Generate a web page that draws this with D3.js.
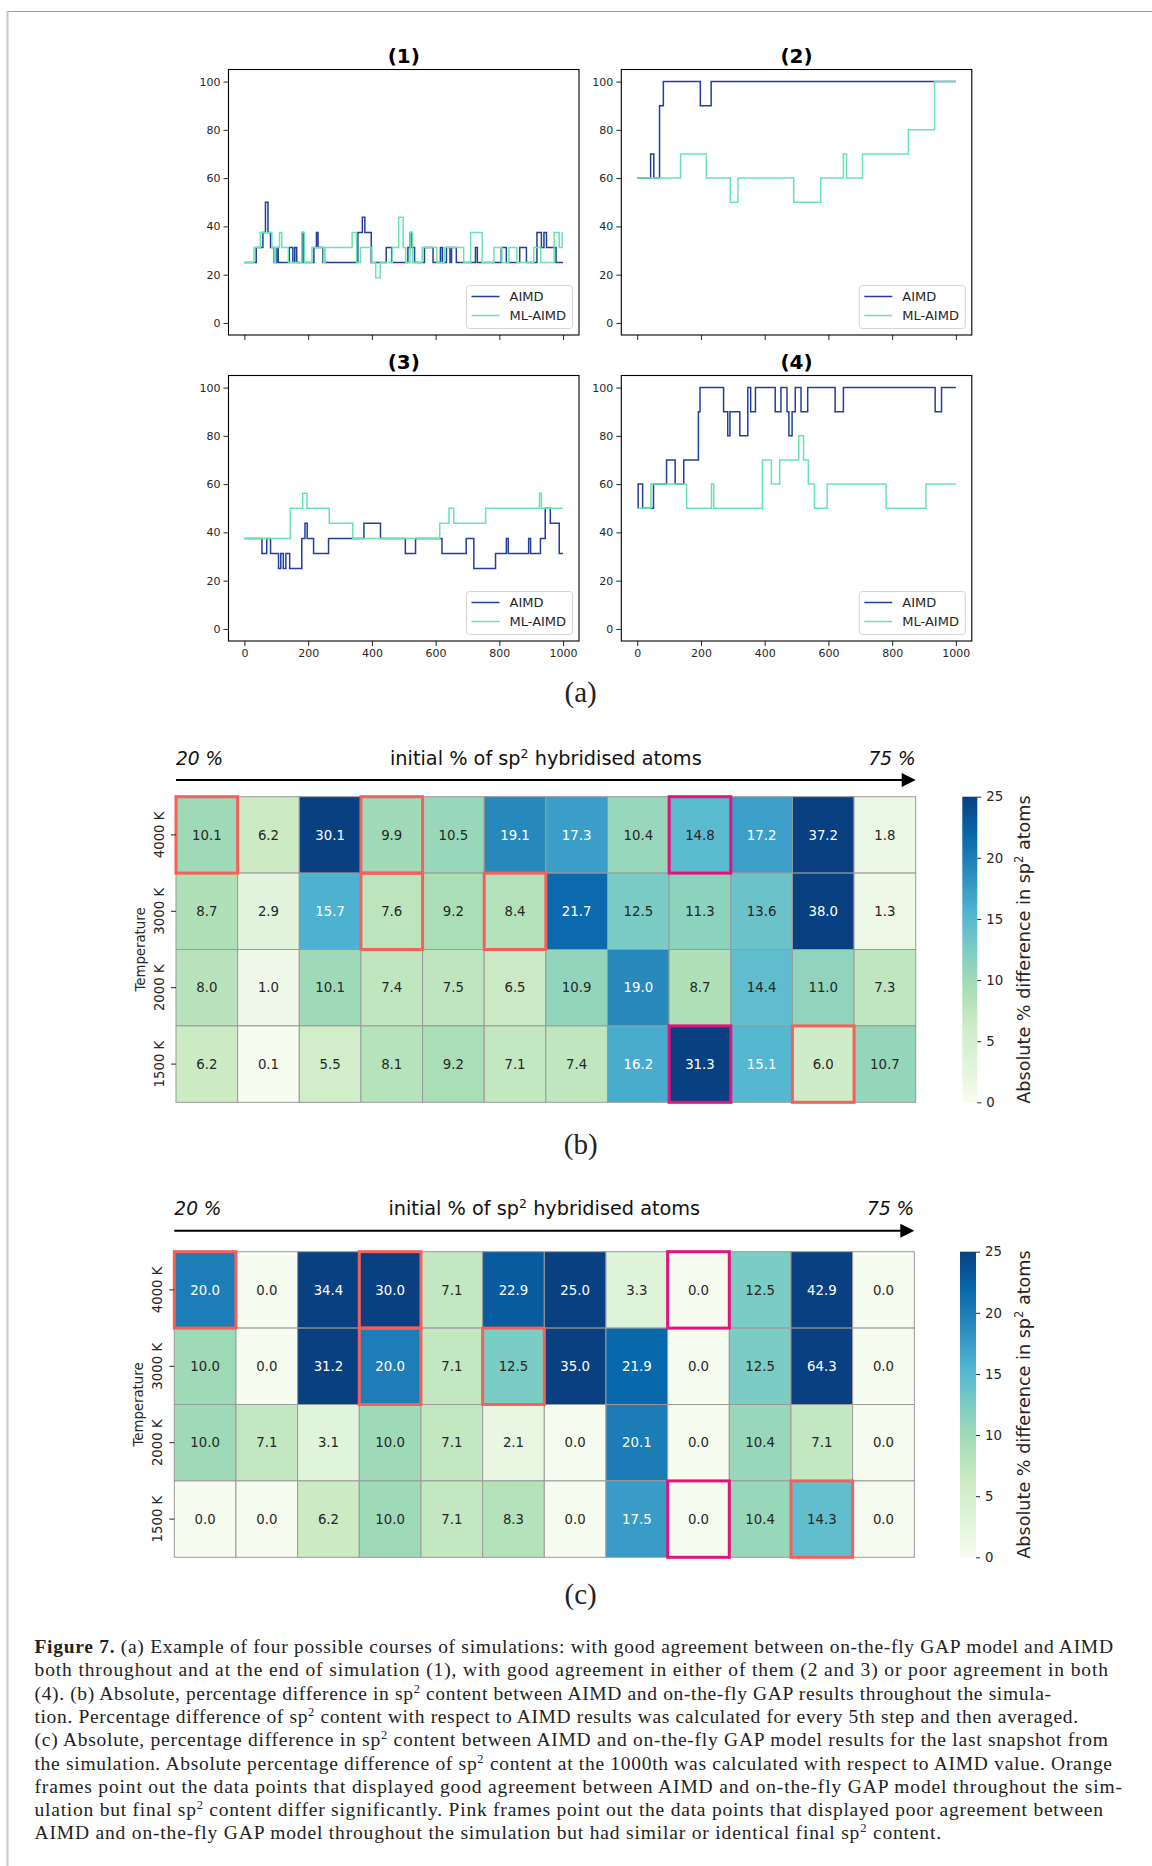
<!DOCTYPE html>
<html>
<head>
<meta charset="utf-8">
<script src="https://cdn.jsdelivr.net/npm/d3@7"></script>
<style>
  body { margin: 0; background: #fff; }
  svg { display: block; }
</style>
</head>
<body>
<div id="fig"></div>
<script>
// ---------- data ----------
var xTicks = [0, 200, 400, 600, 800, 1000];
var yTicks = [0, 20, 40, 60, 80, 100];
var seriesNames = ["AIMD", "ML-AIMD"];
var panelTitles = ["(1)", "(2)", "(3)", "(4)"];

// change points [step, % sp2]
var aimd1 = [[0,25],[37,31.25],[58,37.5],[66,50],[74,37.5],[82,31.25],[92,25],[101,31.25],[106,25],[141,31.25],[152,25],[158,31.25],[164,25],[181,37.5],[186,25],[218,31.25],[226,37.5],[231,31.25],[246,25],[356,37.5],[370,43.75],[378,37.5],[398,25],[445,31.25],[462,25],[513,31.25],[520,37.5],[526,31.25],[534,25],[565,31.25],[592,25],[615,31.25],[621,25],[634,31.25],[645,25],[650,31.25],[665,25],[725,31.25],[731,25],[806,31.25],[822,25],[864,31.25],[885,25],[918,37.5],[932,31.25],[940,37.5],[948,31.25],[978,25],[1000,25]];
var ml1 = [[0,25],[30,31.25],[50,37.5],[86,31.25],[93,25],[98,31.25],[110,37.5],[117,31.25],[138,25],[180,37.5],[188,25],[212,31.25],[248,25],[253,31.25],[338,37.5],[352,25],[364,31.25],[400,25],[412,18.75],[426,25],[464,31.25],[484,43.75],[498,31.25],[506,25],[520,37.5],[528,25],[558,31.25],[604,25],[627,31.25],[688,25],[710,37.5],[746,25],[783,31.25],[808,25],[830,31.25],[855,25],[908,31.25],[930,25],[972,37.5],[988,31.25],[997,37.5],[1000,37.5]];
var aimd2 = [[0,60],[42,70],[52,60],[70,90],[82,100],[198,90],[232,100],[1000,100]];
var ml2 = [[0,60],[136,70],[217,60],[292,50],[316,60],[491,50],[576,60],[647,70],[657,60],[707,70],[851,80],[933,100],[1000,100]];
var aimd3 = [[0,37.5],[55,31.25],[70,37.5],[82,31.25],[107,25],[114,31.25],[122,25],[130,31.25],[142,25],[180,37.5],[190,43.75],[197,37.5],[217,31.25],[264,37.5],[375,43.75],[427,37.5],[505,31.25],[537,37.5],[620,31.25],[696,37.5],[720,25],[788,31.25],[822,37.5],[828,31.25],[892,37.5],[898,31.25],[929,37.5],[944,50],[960,43.75],[988,31.25],[1000,31.25]];
var ml3 = [[0,37.5],[144,50],[183,56.25],[196,50],[266,43.75],[340,37.5],[613,43.75],[642,50],[657,43.75],[757,50],[926,56.25],[932,50],[1000,50]];
var aimd4 = [[0,50],[3,60],[17,50],[51,60],[92,70],[119,60],[146,70],[192,90],[197,100],[271,90],[284,80],[291,90],[322,80],[347,100],[356,90],[371,100],[433,90],[451,100],[470,90],[476,80],[486,90],[496,100],[514,90],[535,100],[621,90],[647,100],[935,90],[955,100],[1000,100]];
var ml4 = [[0,50],[43,60],[155,50],[233,60],[240,50],[393,70],[421,60],[447,70],[507,80],[522,70],[537,60],[556,50],[596,60],[781,50],[906,60],[1000,60]];

var temps = ["4000 K", "3000 K", "2000 K", "1500 K"];
var diffAvg = [
  [10.1, 6.2, 30.1, 9.9, 10.5, 19.1, 17.3, 10.4, 14.8, 17.2, 37.2, 1.8],
  [8.7, 2.9, 15.7, 7.6, 9.2, 8.4, 21.7, 12.5, 11.3, 13.6, 38.0, 1.3],
  [8.0, 1.0, 10.1, 7.4, 7.5, 6.5, 10.9, 19.0, 8.7, 14.4, 11.0, 7.3],
  [6.2, 0.1, 5.5, 8.1, 9.2, 7.1, 7.4, 16.2, 31.3, 15.1, 6.0, 10.7]
];
var diffFinal = [
  [20.0, 0.0, 34.4, 30.0, 7.1, 22.9, 25.0, 3.3, 0.0, 12.5, 42.9, 0.0],
  [10.0, 0.0, 31.2, 20.0, 7.1, 12.5, 35.0, 21.9, 0.0, 12.5, 64.3, 0.0],
  [10.0, 7.1, 3.1, 10.0, 7.1, 2.1, 0.0, 20.1, 0.0, 10.4, 7.1, 0.0],
  [0.0, 0.0, 6.2, 10.0, 7.1, 8.3, 0.0, 17.5, 0.0, 10.4, 14.3, 0.0]
];
var orangeFrames = [[0,0],[0,3],[1,3],[1,5],[3,10]];   // [row, col]
var pinkFrames = [[0,8],[3,8]];
var cbTicks = [0, 5, 10, 15, 20, 25];
var axisLeftText = "20 %", axisRightText = "75 %";

var captionLines = [
  "Figure 7. (a) Example of four possible courses of simulations: with good agreement between on-the-fly GAP model and AIMD",
  "both throughout and at the end of simulation (1), with good agreement in either of them (2 and 3) or poor agreement in both",
  "(4). (b) Absolute, percentage difference in sp^2 content between AIMD and on-the-fly GAP results throughout the simula-",
  "tion. Percentage difference of sp^2 content with respect to AIMD results was calculated for every 5th step and then averaged.",
  "(c) Absolute, percentage difference in sp^2 content between AIMD and on-the-fly GAP model results for the last snapshot from",
  "the simulation. Absolute percentage difference of sp^2 content at the 1000th was calculated with respect to AIMD value. Orange",
  "frames point out the data points that displayed good agreement between AIMD and on-the-fly GAP model throughout the sim-",
  "ulation but final sp^2 content differ significantly. Pink frames point out the data points that displayed poor agreement between",
  "AIMD and on-the-fly GAP model throughout the simulation but had similar or identical final sp^2 content."
];

// ---------- setup ----------
var W = 1152, H = 1866;
var sans = "'DejaVu Sans', sans-serif", serif = "'Liberation Serif', 'Times New Roman', serif";
var ink = "#262626";
var aimdColor = "#233f9c", mlColor = "#6ae3b3";

var svg = d3.select("#fig").append("svg")
    .attr("width", W)
    .attr("height", H);

// page frame
svg.append("line").attr("x1", 7).attr("x2", W).attr("y1", 11.5).attr("y2", 11.5)
    .attr("stroke", "#9a9a9a").attr("stroke-width", 1);
svg.append("line").attr("x1", 7.5).attr("x2", 7.5).attr("y1", 11).attr("y2", H)
    .attr("stroke", "#c8c8c8").attr("stroke-width", 2);

// ---------- (a) line panels ----------
var pw = 350.5, ph = 265.5;
var panels = [
  {title: panelTitles[0], a: aimd1, m: ml1, left: 228.5, top: 69.5, xlab: false},
  {title: panelTitles[1], a: aimd2, m: ml2, left: 621.3, top: 69.5, xlab: false},
  {title: panelTitles[2], a: aimd3, m: ml3, left: 228.5, top: 375.5, xlab: true},
  {title: panelTitles[3], a: aimd4, m: ml4, left: 621.3, top: 375.5, xlab: true}
];

var x = d3.scaleLinear().domain([-50, 1050]).range([0, pw]);
var y = d3.scaleLinear().domain([-5, 105]).range([ph, 0]);
var line = d3.line()
    .x(d => x(d[0]))
    .y(d => y(d[1]))
    .curve(d3.curveStepAfter);

panels.forEach(function(p) {
  var g = svg.append("g").attr("transform", "translate(" + p.left + "," + p.top + ")");

  g.append("text")
      .attr("x", pw / 2).attr("y", -7)
      .attr("text-anchor", "middle")
      .style("font-family", sans).style("font-size", "20px").style("font-weight", "bold")
      .text(p.title);

  var ya = g.append("g")
      .call(d3.axisLeft(y).tickValues(yTicks).tickSize(5).tickPadding(3));
  var xa = g.append("g")
      .attr("transform", "translate(0," + ph + ")")
      .call(d3.axisBottom(x).tickValues(xTicks).tickSize(5).tickPadding(3)
        .tickFormat(p.xlab ? d3.format("d") : ""));
  [ya, xa].forEach(function(a) {
    a.select(".domain").remove();
    a.selectAll("line").attr("stroke", ink).attr("stroke-width", 1);
    a.selectAll("text").style("font-family", sans).style("font-size", "11px").attr("fill", ink);
  });

  g.append("path").datum(p.a)
      .attr("d", line).attr("fill", "none")
      .attr("stroke", aimdColor).attr("stroke-width", 1.5);
  g.append("path").datum(p.m)
      .attr("d", line).attr("fill", "none")
      .attr("stroke", mlColor).attr("stroke-width", 1.5);

  g.append("rect")
      .attr("width", pw).attr("height", ph)
      .attr("fill", "none").attr("stroke", "#000").attr("stroke-width", 1.1);

  // legend
  var lw = 106, lh = 43;
  var lg = g.append("g").attr("transform", "translate(" + (pw - lw - 6.5) + "," + (ph - lh - 6.5) + ")");
  lg.append("rect").attr("width", lw).attr("height", lh).attr("rx", 3)
      .attr("fill", "#fff").attr("fill-opacity", 0.8)
      .attr("stroke", "#d4d4d4").attr("stroke-width", 1);
  [aimdColor, mlColor].forEach(function(c, i) {
    var yy = 11 + i * 19;
    lg.append("line").attr("x1", 5).attr("x2", 33).attr("y1", yy).attr("y2", yy)
        .attr("stroke", c).attr("stroke-width", 1.5);
    lg.append("text").attr("x", 43).attr("y", yy).attr("dy", "0.36em")
        .style("font-family", sans).style("font-size", "13px").attr("fill", ink)
        .text(seriesNames[i]);
  });
});

// ---------- heatmaps ----------
var gnbu = d3.schemeGnBu[9];
var color = d3.scaleLinear()
    .domain(d3.range(9).map(i => i * 25 / 8))
    .range(gnbu)
    .interpolate(d3.interpolateRgb)
    .clamp(true);

function luminance(c) {
  var r = d3.rgb(c);
  var f = v => { v /= 255; return v <= 0.03928 ? v / 12.92 : Math.pow((v + 0.055) / 1.055, 2.4); };
  return 0.2126 * f(r.r) + 0.7152 * f(r.g) + 0.0722 * f(r.b);
}

var defs = svg.append("defs");
var grad = defs.append("linearGradient").attr("id", "cbgrad")
    .attr("x1", 0).attr("y1", 1).attr("x2", 0).attr("y2", 0);
gnbu.forEach(function(c, i) {
  grad.append("stop").attr("offset", (i / 8 * 100) + "%").attr("stop-color", c);
});

function supText(sel, str, supSize, rise) {
  var parts = str.split("^2");
  parts.forEach(function(t, i) {
    if (i > 0) {
      sel.append("tspan").attr("dy", -rise).style("font-size", supSize + "px").text("2");
      sel.append("tspan").attr("dy", rise).text(t);
    } else {
      sel.append("tspan").text(t);
    }
  });
}

function heatmap(data, o) {
  var cols = d3.range(data[0].length);
  var hx = d3.scaleBand().domain(cols).range([o.x0, o.x1]);
  var hy = d3.scaleBand().domain(d3.range(temps.length)).range([o.y0, o.y1]);
  var g = svg.append("g");

  // header and arrow
  g.append("text").attr("x", o.x0).attr("y", o.textY)
      .style("font-family", sans).style("font-size", "18.6px").style("font-style", "italic")
      .attr("fill", "#111").text(axisLeftText);
  g.append("text").attr("x", o.x1).attr("y", o.textY).attr("text-anchor", "end")
      .style("font-family", sans).style("font-size", "18.6px").style("font-style", "italic")
      .attr("fill", "#111").text(axisRightText);
  var ht = g.append("text").attr("x", (o.x0 + o.x1) / 2).attr("y", o.textY).attr("text-anchor", "middle")
      .style("font-family", sans).style("font-size", "19.3px").attr("fill", "#111");
  supText(ht, "initial % of sp^2 hybridised atoms", 12.5, 7);

  g.append("line").attr("x1", o.x0).attr("x2", o.x1 - 10)
      .attr("y1", o.arrowY).attr("y2", o.arrowY)
      .attr("stroke", "#000").attr("stroke-width", 2);
  g.append("path")
      .attr("d", "M" + (o.x1 - 14) + "," + (o.arrowY - 7) + "L" + o.x1 + "," + o.arrowY + "L" + (o.x1 - 14) + "," + (o.arrowY + 7) + "Z")
      .attr("fill", "#000");

  // cells
  var cells = [];
  data.forEach(function(row, r) { row.forEach(function(v, c) { cells.push({r: r, c: c, v: v}); }); });
  g.selectAll(".cell").data(cells).enter().append("rect")
      .attr("class", "cell")
      .attr("x", d => hx(d.c)).attr("y", d => hy(d.r))
      .attr("width", hx.bandwidth()).attr("height", hy.bandwidth())
      .attr("fill", d => color(d.v))
      .attr("stroke", "#9a9a9a").attr("stroke-width", 1);
  g.selectAll(".val").data(cells).enter().append("text")
      .attr("class", "val")
      .attr("x", d => hx(d.c) + hx.bandwidth() / 2)
      .attr("y", d => hy(d.r) + hy.bandwidth() / 2)
      .attr("dy", "0.36em").attr("text-anchor", "middle")
      .style("font-family", sans).style("font-size", "13.3px")
      .attr("fill", d => luminance(color(d.v)) > 0.408 ? ink : "#fff")
      .text(d => d.v.toFixed(1));

  // highlight frames
  [[orangeFrames, "#f5605a"], [pinkFrames, "#e5127d"]].forEach(function(fr) {
    g.selectAll(null).data(fr[0]).enter().append("rect")
        .attr("x", d => hx(d[1])).attr("y", d => hy(d[0]))
        .attr("width", hx.bandwidth()).attr("height", hy.bandwidth())
        .attr("fill", "none").attr("stroke", fr[1]).attr("stroke-width", 3);
  });

  // row ticks and labels
  temps.forEach(function(t, i) {
    var cy = hy(i) + hy.bandwidth() / 2;
    g.append("line").attr("x1", o.x0 - 5).attr("x2", o.x0).attr("y1", cy).attr("y2", cy)
        .attr("stroke", ink).attr("stroke-width", 1);
    g.append("text")
        .attr("transform", "translate(" + o.rowLabX + "," + cy + ") rotate(-90)")
        .attr("dy", "0.36em").attr("text-anchor", "middle")
        .style("font-family", sans).style("font-size", "13.3px").attr("fill", ink)
        .text(t);
  });
  g.append("text")
      .attr("transform", "translate(" + o.tempX + "," + ((o.y0 + o.y1) / 2) + ") rotate(-90)")
      .attr("dy", "0.36em").attr("text-anchor", "middle")
      .style("font-family", sans).style("font-size", "13.3px").attr("fill", ink)
      .text("Temperature");

  // colorbar
  var cs = d3.scaleLinear().domain([0, 25]).range([o.y1, o.y0]);
  g.append("rect").attr("x", o.cbX).attr("y", o.y0)
      .attr("width", o.cbW).attr("height", o.y1 - o.y0)
      .attr("fill", "url(#cbgrad)");
  var ca = g.append("g")
      .attr("transform", "translate(" + (o.cbX + o.cbW) + ",0)")
      .call(d3.axisRight(cs).tickValues(cbTicks).tickSize(4).tickPadding(5));
  ca.select(".domain").remove();
  ca.selectAll("line").attr("stroke", ink);
  ca.selectAll("text").style("font-family", sans).style("font-size", "13.3px").attr("fill", ink);
  var cl = g.append("text")
      .attr("transform", "translate(" + o.cbLabX + "," + ((o.y0 + o.y1) / 2) + ") rotate(-90)")
      .attr("dy", "0.36em").attr("text-anchor", "middle")
      .style("font-family", sans).style("font-size", "17.6px").attr("fill", ink);
  supText(cl, "Absolute % difference in sp^2 atoms", 11.5, 7);
}

heatmap(diffAvg, {x0: 176, x1: 915.7, y0: 796.7, y1: 1102.3, arrowY: 780, textY: 765,
  rowLabX: 159, tempX: 140, cbX: 962.3, cbW: 15, cbLabX: 1024});
heatmap(diffFinal, {x0: 174.3, x1: 914.3, y0: 1251.7, y1: 1557.3, arrowY: 1230.7, textY: 1215,
  rowLabX: 157.3, tempX: 138.3, cbX: 960, cbW: 16, cbLabX: 1024});

// ---------- sub-figure letters ----------
[["(a)", 702], ["(b)", 1154], ["(c)", 1604]].forEach(function(l) {
  svg.append("text").attr("x", 580.7).attr("y", l[1]).attr("text-anchor", "middle")
      .style("font-family", serif).style("font-size", "29px").attr("fill", "#222")
      .text(l[0]);
});

// ---------- caption ----------
var capLeft = 34.5, capTop = 1653, capStep = 23.3;
var capEnds = [1113, 1108, 1051, 1078, 1108, 1112, 1122, 1103, 941];
captionLines.forEach(function(s, i) {
  var t = svg.append("text")
      .attr("x", capLeft).attr("y", capTop + i * capStep)
      .attr("textLength", capEnds[i] - capLeft).attr("lengthAdjust", "spacing")
      .style("font-family", serif).style("font-size", "19.5px").attr("fill", "#222");
  if (i === 0) {
    t.append("tspan").style("font-weight", "bold").text("Figure 7.");
    s = s.slice("Figure 7.".length);
  }
  supText(t, s, 12.5, 7);
});
</script>
</body>
</html>
